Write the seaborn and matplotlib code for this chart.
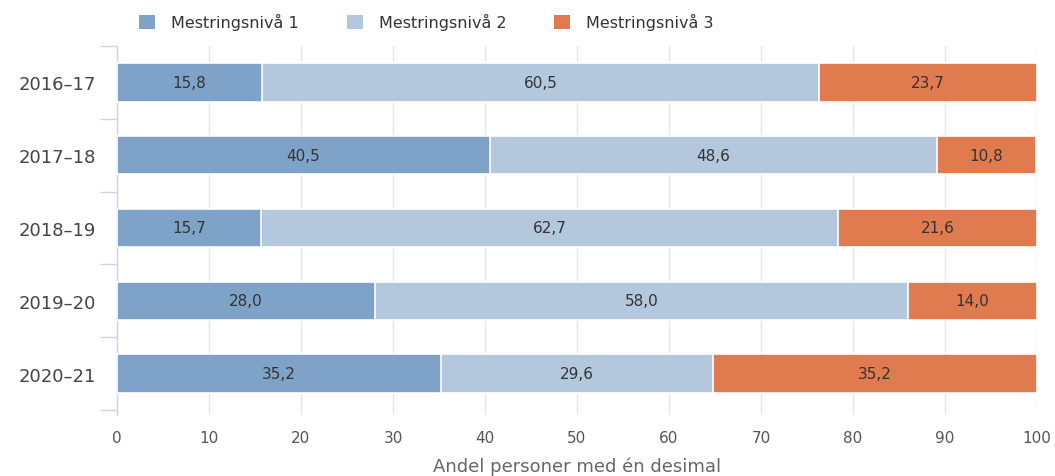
import seaborn as sns
import pandas as pd
import matplotlib.pyplot as plt
from matplotlib.patches import Patch

years = ["2016–17", "2017–18", "2018–19", "2019–20", "2020–21"]
niva1 = [15.8, 40.5, 15.7, 28.0, 35.2]
niva2 = [60.5, 48.6, 62.7, 58.0, 29.6]
niva3 = [23.7, 10.8, 21.6, 14.0, 35.2]
series_names = ["Mestringsnivå 1", "Mestringsnivå 2", "Mestringsnivå 3"]
colors = ["#7fa3c8", "#b3c8dd", "#e07b4f"]

df = pd.DataFrame({"year": years, "n1": niva1, "n2": niva2, "n3": niva3})
df["c1"] = df["n1"]
df["c2"] = df["n1"] + df["n2"]
df["c3"] = df["n1"] + df["n2"] + df["n3"]

sns.set_theme(style="white")
plt.rcParams["font.family"] = ["DejaVu Sans"]

fig = plt.figure(figsize=(10.55, 4.77), dpi=100)
ax = fig.add_axes([117 / 1055, 1 - 416 / 477, 920 / 1055, 369 / 477])

# stacked bars: draw cumulative totals back to front
for col, c in zip(["c3", "c2", "c1"], colors[::-1]):
    sns.barplot(data=df, x=col, y="year", color=c, orient="h", width=0.53,
                saturation=1, edgecolor="white", linewidth=1.2, ax=ax, zorder=3)

# value labels centred in each segment
for i, row in df.iterrows():
    starts = [0, row["c1"], row["c2"]]
    for s, v in zip(starts, [row["n1"], row["n2"], row["n3"]]):
        ax.text(s + v / 2, i, f"{v:.1f}".replace(".", ","), ha="center", va="center",
                fontsize=11, color="#333333", zorder=5)

ax.set_xlim(0, 100)
ax.set_ylim(4.5 + 5 / 72.8, -0.5)
ax.set_xticks(range(0, 101, 10))
ax.grid(axis="x", color="#e6e6e6", linewidth=1, zorder=0)
ax.set_axisbelow(True)
for side in ["top", "right", "bottom"]:
    ax.spines[side].set_visible(False)
ax.spines["left"].set_color("#ccd6eb")
ax.spines["left"].set_linewidth(1)

ax.set_yticks([i - 0.5 for i in range(6)], minor=True)
ax.tick_params(axis="y", which="minor", left=True, length=12, color="#ccd6eb", width=1)
ax.tick_params(axis="y", which="major", left=False, length=0, pad=15, labelsize=13, labelcolor="#444444")
ax.tick_params(axis="x", length=0, pad=11, labelsize=11, labelcolor="#555555")

ax.set_ylabel("")
ax.set_xlabel("Andel personer med én desimal", fontsize=13, color="#666666", labelpad=8)

handles = [Patch(facecolor=c, edgecolor="none") for c in colors]
fig.legend(handles, series_names, loc="upper left", bbox_to_anchor=(125 / 1055, 1.0),
           ncol=3, frameon=False, fontsize=11.5, handlelength=1.0, handleheight=1.0,
           columnspacing=3.0, handletextpad=1.0, labelcolor="#333333")

fig.savefig("out.png", dpi=100)
